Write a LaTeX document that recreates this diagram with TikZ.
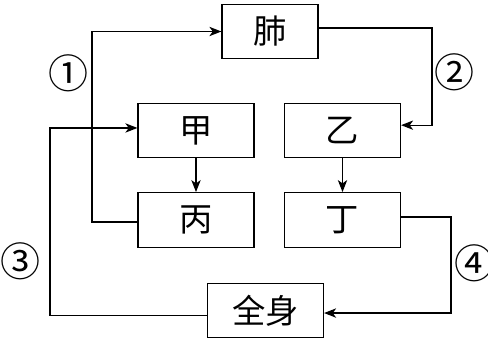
\documentclass[tikz,border=0pt]{standalone}
\usepackage{fontspec}
\newfontfamily\cjk{Noto Sans CJK SC}
\usetikzlibrary{positioning, arrows.meta, calc}
\tikzset{
  organ/.style={draw, line width=0.9pt, font=\cjk\fontsize{25}{25}\selectfont, minimum width=87pt, minimum height=41pt, inner sep=0pt},
  arr/.style={-{Stealth[length=9pt, width=7pt, inset=2.5pt]}, line width=0.9pt},
  step num/.style={font=\cjk\fontsize{30}{30}\selectfont, inner sep=0pt},
}

\begin{document}
\begin{tikzpicture}[x=0.75pt, y=-0.75pt]
\useasboundingbox (0,0) rectangle (488,343);
\node[organ, minimum width=72pt] (fei) at (270,31.5) {肺};
\node[organ] (jia) at (196,130.5) {甲};
\node[organ] (yi) at (342.5,130.5) {乙};
\node[organ] (bing) at (196,220) {丙};
\node[organ] (ding) at (342.5,220) {丁};
\node[organ] (body) at (265.5,310.5) {全身};
% ports
\coordinate (feiOut) at ([yshift=2.6pt]fei.east);
\coordinate (yiIn) at ([yshift=4pt]yi.east);
\coordinate (dingOut) at ([yshift=2.2pt]ding.east);
\coordinate (bodyIn) at ([yshift=-1.9pt]body.east);
\coordinate (bodyOut) at ([yshift=-4pt]body.west);
\coordinate (jiaIn) at ([yshift=1.9pt]jia.west);
\coordinate (bingOut) at ([yshift=-1.5pt]bing.west);
% lanes
\coordinate (laneA) at (92,0);
\coordinate (laneB) at (432,0);
\coordinate (laneC) at (50,0);
\coordinate (laneD) at (451,0);
\draw[arr] (jia) -- (bing);
\draw[arr] (yi) -- (ding);
\draw[arr] (bingOut) -- (laneA |- bingOut) |- (fei.west);
\draw[arr] (feiOut) -- (laneB |- feiOut) |- (yiIn);
\draw[arr] (dingOut) -- (laneD |- dingOut) |- (bodyIn);
\draw[arr] (bodyOut) -- (laneC |- bodyOut) |- (jiaIn);
\node[step num] (n1) at (68,73) {①};
\node[step num] (n2) at (454,72) {②};
\node[step num] (n3) at (20,261) {③};
\node[step num] (n4) at (474,263) {④};
\end{tikzpicture}
\end{document}
